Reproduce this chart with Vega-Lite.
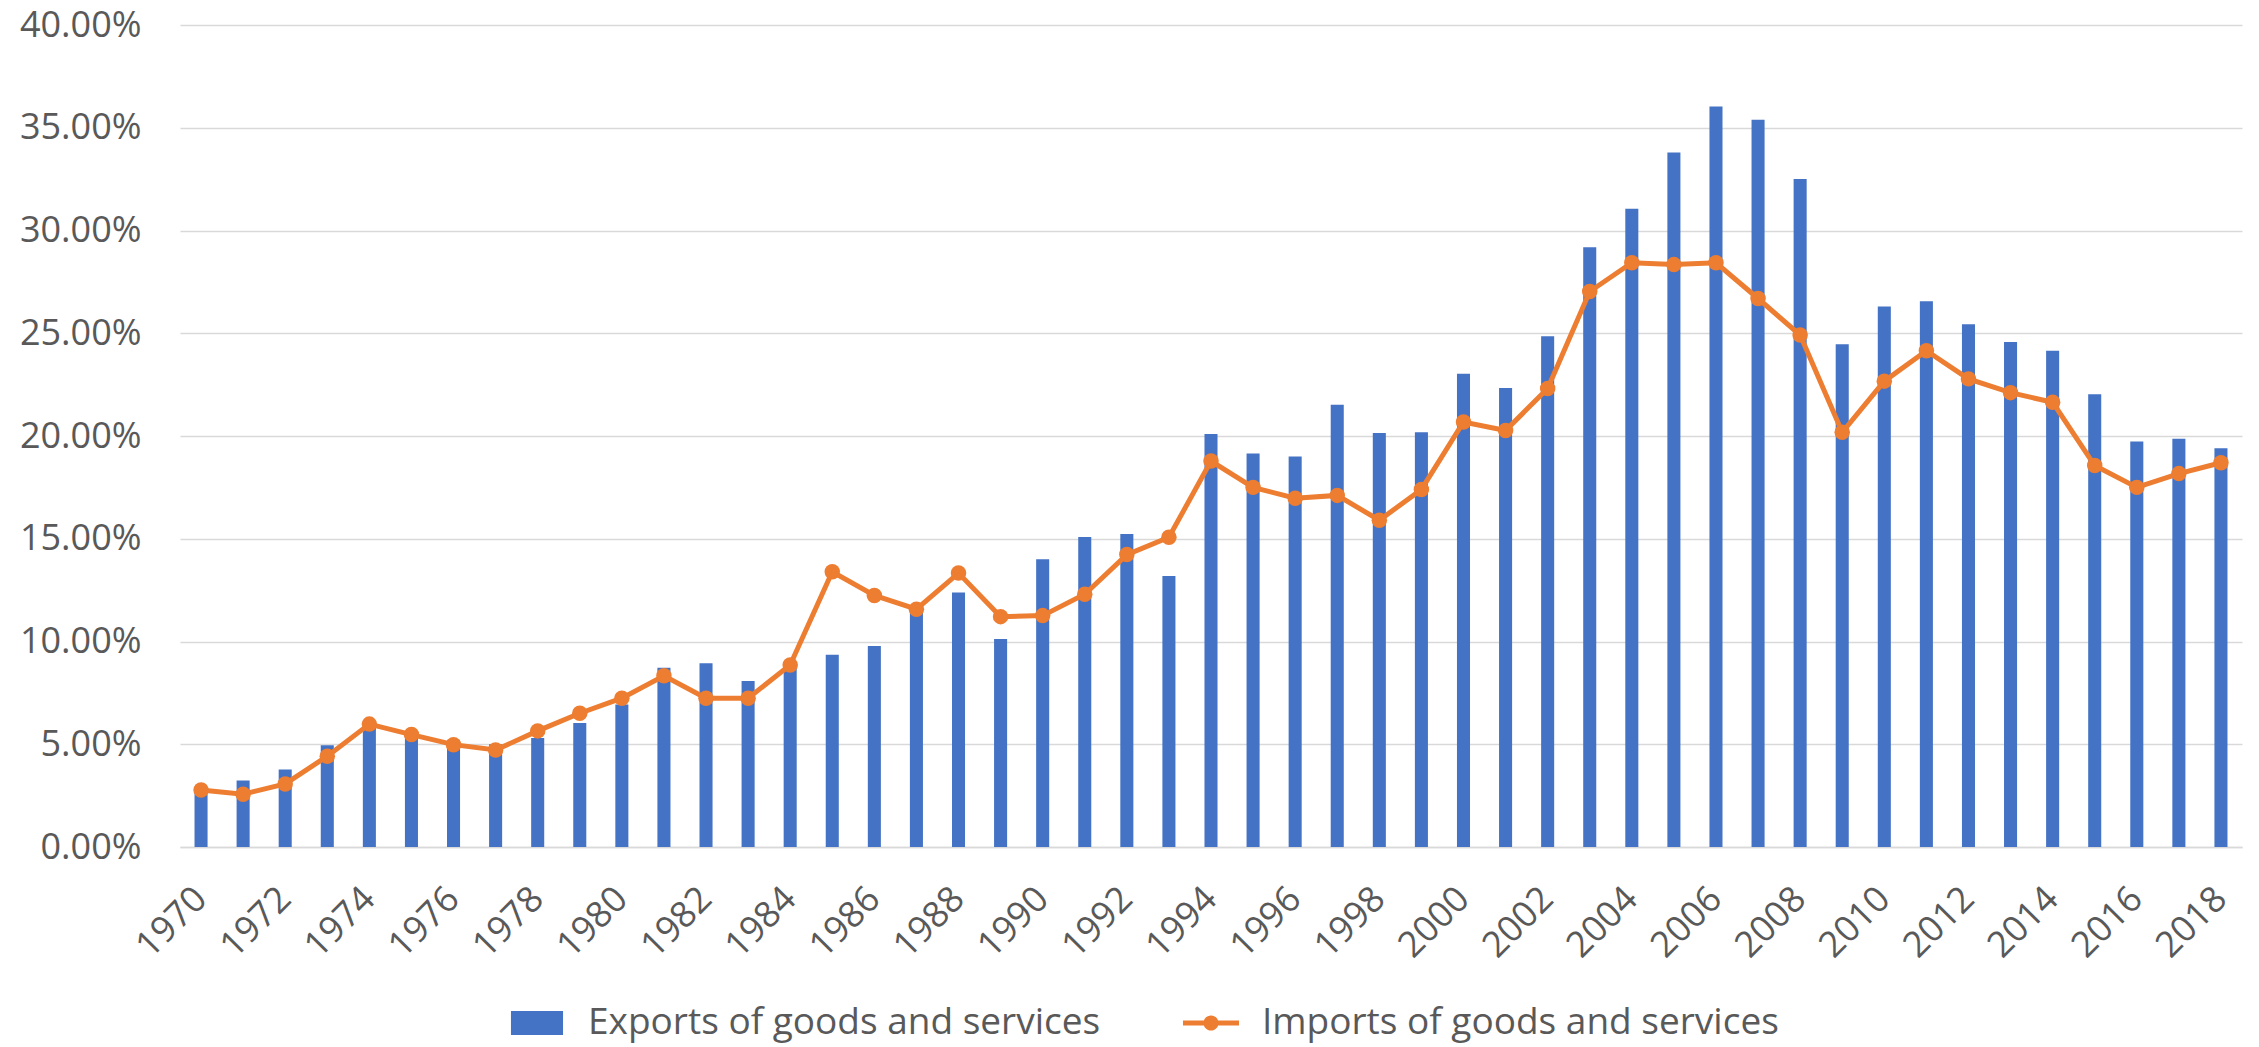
{
  "$schema": "https://vega.github.io/schema/vega-lite/v6.json",
  "width": 2062,
  "height": 822,
  "autosize": "none",
  "padding": {"left": 180, "top": 25, "right": 17, "bottom": 200},
  "background": "white",
  "data": {
    "values": [
      {"year": 1970, "Exports of goods and services": 0.0275, "Imports of goods and services": 0.0277},
      {"year": 1971, "Exports of goods and services": 0.0324, "Imports of goods and services": 0.0257},
      {"year": 1972, "Exports of goods and services": 0.0377, "Imports of goods and services": 0.0307},
      {"year": 1973, "Exports of goods and services": 0.0495, "Imports of goods and services": 0.0442},
      {"year": 1974, "Exports of goods and services": 0.0585, "Imports of goods and services": 0.0598},
      {"year": 1975, "Exports of goods and services": 0.0545, "Imports of goods and services": 0.0547},
      {"year": 1976, "Exports of goods and services": 0.052, "Imports of goods and services": 0.0498},
      {"year": 1977, "Exports of goods and services": 0.050, "Imports of goods and services": 0.0472},
      {"year": 1978, "Exports of goods and services": 0.053, "Imports of goods and services": 0.0565},
      {"year": 1979, "Exports of goods and services": 0.0604, "Imports of goods and services": 0.0651},
      {"year": 1980, "Exports of goods and services": 0.0693, "Imports of goods and services": 0.0724},
      {"year": 1981, "Exports of goods and services": 0.0872, "Imports of goods and services": 0.0833},
      {"year": 1982, "Exports of goods and services": 0.0894, "Imports of goods and services": 0.0724},
      {"year": 1983, "Exports of goods and services": 0.0808, "Imports of goods and services": 0.0724},
      {"year": 1984, "Exports of goods and services": 0.088, "Imports of goods and services": 0.0886},
      {"year": 1985, "Exports of goods and services": 0.0936, "Imports of goods and services": 0.1339},
      {"year": 1986, "Exports of goods and services": 0.0978, "Imports of goods and services": 0.1224},
      {"year": 1987, "Exports of goods and services": 0.115, "Imports of goods and services": 0.1157},
      {"year": 1988, "Exports of goods and services": 0.1238, "Imports of goods and services": 0.1333},
      {"year": 1989, "Exports of goods and services": 0.1012, "Imports of goods and services": 0.1121},
      {"year": 1990, "Exports of goods and services": 0.140, "Imports of goods and services": 0.1126},
      {"year": 1991, "Exports of goods and services": 0.1509, "Imports of goods and services": 0.123},
      {"year": 1992, "Exports of goods and services": 0.1523, "Imports of goods and services": 0.1423},
      {"year": 1993, "Exports of goods and services": 0.1319, "Imports of goods and services": 0.1507},
      {"year": 1994, "Exports of goods and services": 0.201, "Imports of goods and services": 0.1878},
      {"year": 1995, "Exports of goods and services": 0.1915, "Imports of goods and services": 0.175},
      {"year": 1996, "Exports of goods and services": 0.190, "Imports of goods and services": 0.1697},
      {"year": 1997, "Exports of goods and services": 0.2152, "Imports of goods and services": 0.1711},
      {"year": 1998, "Exports of goods and services": 0.2015, "Imports of goods and services": 0.159},
      {"year": 1999, "Exports of goods and services": 0.2018, "Imports of goods and services": 0.174},
      {"year": 2000, "Exports of goods and services": 0.2303, "Imports of goods and services": 0.2068},
      {"year": 2001, "Exports of goods and services": 0.2233, "Imports of goods and services": 0.2027},
      {"year": 2002, "Exports of goods and services": 0.2485, "Imports of goods and services": 0.2231},
      {"year": 2003, "Exports of goods and services": 0.2918, "Imports of goods and services": 0.2703},
      {"year": 2004, "Exports of goods and services": 0.3106, "Imports of goods and services": 0.2843},
      {"year": 2005, "Exports of goods and services": 0.3379, "Imports of goods and services": 0.2834},
      {"year": 2006, "Exports of goods and services": 0.3603, "Imports of goods and services": 0.2843},
      {"year": 2007, "Exports of goods and services": 0.3539, "Imports of goods and services": 0.2669},
      {"year": 2008, "Exports of goods and services": 0.3251, "Imports of goods and services": 0.2491},
      {"year": 2009, "Exports of goods and services": 0.2446, "Imports of goods and services": 0.2018},
      {"year": 2010, "Exports of goods and services": 0.263, "Imports of goods and services": 0.2267},
      {"year": 2011, "Exports of goods and services": 0.2656, "Imports of goods and services": 0.2415},
      {"year": 2012, "Exports of goods and services": 0.2544, "Imports of goods and services": 0.2278},
      {"year": 2013, "Exports of goods and services": 0.2457, "Imports of goods and services": 0.2211},
      {"year": 2014, "Exports of goods and services": 0.2415, "Imports of goods and services": 0.2164},
      {"year": 2015, "Exports of goods and services": 0.2203, "Imports of goods and services": 0.1856},
      {"year": 2016, "Exports of goods and services": 0.1973, "Imports of goods and services": 0.175},
      {"year": 2017, "Exports of goods and services": 0.1987, "Imports of goods and services": 0.1817},
      {"year": 2018, "Exports of goods and services": 0.194, "Imports of goods and services": 0.187}
    ]
  },
  "transform": [
    {"fold": ["Exports of goods and services", "Imports of goods and services"], "as": ["series", "value"]}
  ],
  "encoding": {
    "x": {
      "field": "year",
      "type": "ordinal",
      "scale": {"paddingInner": 0.69, "paddingOuter": 0.345},
      "axis": {
        "title": null,
        "values": [1970, 1972, 1974, 1976, 1978, 1980, 1982, 1984, 1986, 1988, 1990, 1992, 1994, 1996, 1998, 2000, 2002, 2004, 2006, 2008, 2010, 2012, 2014, 2016, 2018],
        "labelAngle": -45,
        "labelAlign": "right",
        "labelBaseline": "middle",
        "labelFontSize": 36,
        "labelColor": "#595959",
        "labelPadding": 46,
        "ticks": false,
        "grid": false,
        "domainColor": "#D9D9D9",
        "domainWidth": 1.5
      }
    },
    "y": {
      "field": "value",
      "type": "quantitative",
      "scale": {"domain": [0, 0.4], "nice": false},
      "axis": {
        "title": null,
        "format": ".2%",
        "values": [0, 0.05, 0.1, 0.15, 0.2, 0.25, 0.3, 0.35, 0.4],
        "labelFontSize": 36,
        "labelColor": "#595959",
        "labelPadding": 39,
        "domain": false,
        "ticks": false,
        "gridColor": "#D9D9D9",
        "gridWidth": 1.5
      }
    },
    "color": {
      "field": "series",
      "type": "nominal",
      "scale": {
        "domain": ["Exports of goods and services", "Imports of goods and services"],
        "range": ["#4472C4", "#ED7D31"]
      },
      "legend": {
        "title": null,
        "orient": "none",
        "legendX": 329,
        "legendY": 970,
        "direction": "horizontal",
        "symbolSize": 3136,
        "labelFontSize": 37,
        "labelColor": "#595959",
        "labelOffset": 23,
        "columnPadding": 82,
        "padding": 0,
        "labelLimit": 1000,
        "encode": {
          "symbols": {
            "update": {
              "shape": {"signal": "datum.value == 'Exports of goods and services' ? 'M-0.93,-0.43H0.93V0.43H-0.93Z' : 'M-1,-0.085H1V0.085H-1Z M0.27,0A0.27,0.27 0 1,1 -0.27,0A0.27,0.27 0 1,1 0.27,0Z'"},
              "fill": {"signal": "scale('color', datum.value)"},
              "stroke": {"value": "transparent"},
              "strokeWidth": {"value": 0},
              "opacity": {"value": 1},
              "fillOpacity": {"value": 1}
            }
          }
        }
      }
    }
  },
  "layer": [
    {
      "transform": [{"filter": "datum.series == 'Exports of goods and services'"}],
      "mark": {"type": "bar"}
    },
    {
      "transform": [{"filter": "datum.series == 'Imports of goods and services'"}],
      "mark": {"type": "line", "strokeWidth": 5}
    },
    {
      "transform": [{"filter": "datum.series == 'Imports of goods and services'"}],
      "mark": {"type": "point", "filled": true, "size": 240, "opacity": 1}
    }
  ],
  "config": {
    "view": {"stroke": null},
    "font": "Open Sans"
  }
}
